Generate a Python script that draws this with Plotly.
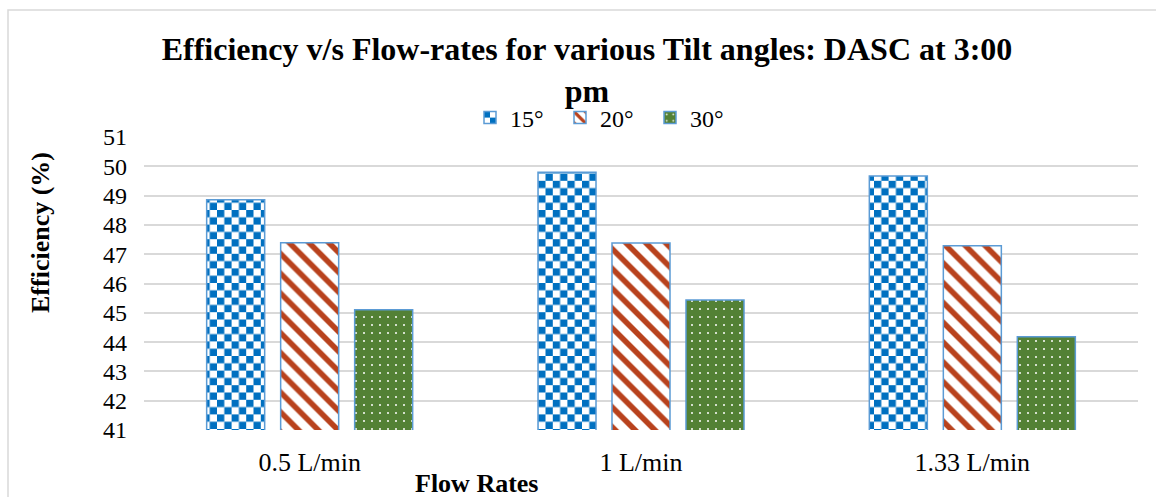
import plotly.graph_objects as go

# Efficiency (%) of the DASC at 3:00 pm for three tilt angles
flow_rates = ["0.5 L/min", "1 L/min", "1.33 L/min"]
tilt_angles = ["15°", "20°", "30°"]
eff_15 = [48.86, 49.8, 49.67]
eff_20 = [47.39, 47.38, 47.29]
eff_30 = [45.1, 45.44, 44.18]
y_ticks = [41, 42, 43, 44, 45, 46, 47, 48, 49, 50, 51]

W, H = 1156, 497
L, R, T, B = 144, 18, 137, 67
PW, PH = W - L - R, H - T - B

SERIF = "Liberation Serif"
OUTLINE = "#5B9BD5"
BLUE = "#0070C0"
BROWN = "#B8421D"
GREEN = "#538135"


def px_x(p):
    return (p - L) / PW


def px_y(p):
    return (H - B - p) / PH


fig = go.Figure()
fig.add_trace(go.Bar(
    name=tilt_angles[0], x=flow_rates, y=eff_15,
    marker=dict(color=BLUE, line=dict(color=OUTLINE, width=1.5)),
))
fig.add_trace(go.Bar(
    name=tilt_angles[1], x=flow_rates, y=eff_20,
    marker=dict(color="white", line=dict(color=OUTLINE, width=1.5),
                pattern=dict(shape="\\", fgcolor=BROWN, bgcolor="white",
                             size=14, solidity=0.4, fillmode="replace")),
))
fig.add_trace(go.Bar(
    name=tilt_angles[2], x=flow_rates, y=eff_30,
    marker=dict(color=GREEN, line=dict(color=OUTLINE, width=1.5),
                pattern=dict(shape=".", fgcolor="white", bgcolor=GREEN,
                             size=8, solidity=0.05, fillmode="replace")),
))

fig.update_layout(
    width=W, height=H,
    margin=dict(l=L, r=R, t=T, b=B, pad=0),
    paper_bgcolor="white", plot_bgcolor="white",
    font=dict(family=SERIF, color="black", size=24),
    barmode="group", bargap=0.33, bargroupgap=0.216,
    showlegend=True,
    legend=dict(orientation="h", x=px_x(605), xanchor="center",
                y=px_y(118), yanchor="middle",
                font=dict(family=SERIF, size=24, color="black"), entrywidth=45,
                bgcolor="rgba(0,0,0,0)", itemclick=False),
    title=dict(text="<b>Efficiency v/s Flow-rates for various Tilt angles: DASC at 3:00<br>pm</b>",
               x=587 / W, xanchor="center", xref="container",
               y=1 - 60 / H, yanchor="top", yref="container",
               font=dict(family=SERIF, size=32, color="black")),
    xaxis=dict(showline=False, showgrid=False, zeroline=False, ticks="",
               tickfont=dict(family=SERIF, size=26, color="black"), ticklabelstandoff=14),
    yaxis=dict(range=[y_ticks[0], y_ticks[-1]], tickvals=y_ticks,
               showgrid=True, gridcolor="#D9D9D9", gridwidth=1.5,
               showline=False, zeroline=False, ticks="",
               tickfont=dict(family=SERIF, size=24, color="black"), ticklabelstandoff=16),
    annotations=[
        dict(text="<b>Efficiency (%)</b>", textangle=-90, showarrow=False,
             xref="paper", yref="paper", x=px_x(40), y=px_y(233),
             xanchor="center", yanchor="middle",
             font=dict(family=SERIF, size=26, color="black")),
        dict(text="<b>Flow Rates</b>", showarrow=False,
             xref="paper", yref="paper", x=px_x(476), y=px_y(483),
             xanchor="center", yanchor="middle",
             font=dict(family=SERIF, size=26, color="black")),
    ],
    shapes=[
        dict(type="rect", xref="paper", yref="paper", layer="below",
             x0=px_x(8), x1=px_x(1175), y0=px_y(520), y1=px_y(10),
             line=dict(color="#D9D9D9", width=1.5), fillcolor="rgba(0,0,0,0)"),
    ],
)

# Checkerboard fill for the 15° series (bars and legend swatch)
checker_js = """
var gd = document.getElementById('{plot_id}');
function applyChecker() {
  var ns = 'http://www.w3.org/2000/svg';
  var svg = gd.querySelector('svg.main-svg');
  var defs = svg.querySelector('defs');
  if (!document.getElementById('checker15')) {
    var c = 7.3;
    var pat = document.createElementNS(ns, 'pattern');
    pat.setAttribute('id', 'checker15');
    pat.setAttribute('patternUnits', 'userSpaceOnUse');
    pat.setAttribute('width', 2 * c);
    pat.setAttribute('height', 2 * c);
    var cells = [[0, 0, 'white', 2 * c], [0, 0, '#0070C0', c], [c, c, '#0070C0', c]];
    cells.forEach(function(s) {
      var r = document.createElementNS(ns, 'rect');
      r.setAttribute('x', s[0]); r.setAttribute('y', s[1]);
      r.setAttribute('width', s[3]); r.setAttribute('height', s[3]);
      r.setAttribute('fill', s[2]);
      pat.appendChild(r);
    });
    defs.appendChild(pat);
  }
  var traces = gd.querySelectorAll('.barlayer .trace');
  if (traces.length) {
    traces[0].querySelectorAll('path').forEach(function(p) { p.style.fill = 'url(#checker15)'; });
  }
  var leg = gd.querySelectorAll('.legend .traces');
  if (leg.length) {
    leg[0].querySelectorAll('.legendpoints path').forEach(function(p) { p.style.fill = 'url(#checker15)'; });
  }
}
applyChecker();
gd.on('plotly_afterplot', applyChecker);
"""

fig.write_html("out.html", post_script=checker_js)
